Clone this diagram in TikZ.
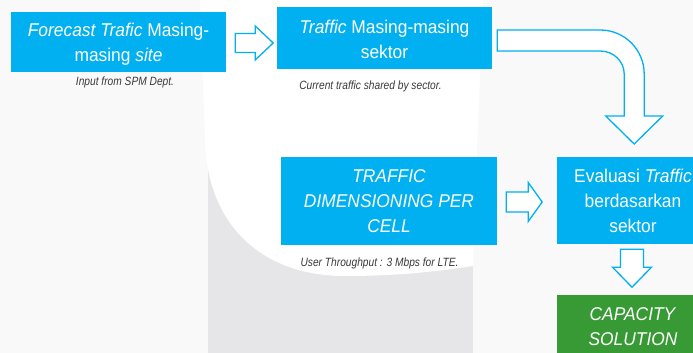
\documentclass[tikz,border=0pt]{standalone}
\usepackage{fontspec}
\setmainfont{Liberation Sans}
\newfontfamily\capfont{Liberation Sans}[FakeStretch=0.85]
\newfontfamily\boxfont{Liberation Sans}[FakeStretch=0.94]
\usetikzlibrary{calc}
\definecolor{boxblue}{HTML}{00B0F0}
\definecolor{boxgreen}{HTML}{389A35}
\definecolor{bgpale}{HTML}{F9F9F9}
\definecolor{bggray}{HTML}{E6E6E8}
\definecolor{captext}{HTML}{3A3A3A}
\tikzset{
  stepbox/.style={rectangle, fill=boxblue, text=white, inner sep=0pt, align=center,
    font=\boxfont\fontsize{18.5}{25}\selectfont},
  greenbox/.style={stepbox, fill=boxgreen},
  caption/.style={inner sep=0pt, text=captext, font=\capfont\itshape\fontsize{12}{14}\selectfont},
  blockarrow/.style={draw=boxblue, fill=white, line width=1.3pt, line join=miter}
}
\begin{document}
\begin{tikzpicture}[x=1pt, y=-1pt]
\useasboundingbox (0,0) rectangle (693,353);
% background
\fill[bgpale] (0,0) rectangle (693,353);
\fill[bggray] (208,140) rectangle (473,353);
\fill[white] (200,0) -- (205,140) .. controls (207,225) and (262,276) .. (345,276)
  .. controls (400,276) and (440,271) .. (473,266) -- (477,150) -- (483,0) -- cycle;

% boxes
\node[stepbox, minimum width=215pt, minimum height=60pt] (f1) at (118.5,42)
  {\rule{0pt}{18pt}\textit{Forecast Trafic} Masing-\\masing \textit{site}};
\node[stepbox, minimum width=215pt, minimum height=62pt] (f2) at (384.5,38)
  {\rule{0pt}{17pt}\textit{Traffic} Masing-masing\\sektor};
\node[stepbox, minimum width=216pt, minimum height=88pt] (f3) at (389,201)
  {\textit{TRAFFIC}\\\textit{DIMENSIONING PER}\\\textit{CELL}};
\node[stepbox, minimum width=152pt, minimum height=87pt] (f4) at (633,200.5)
  {Evaluasi \textit{Traffic}\\berdasarkan\\sektor};
\node[greenbox, minimum width=152pt, minimum height=63pt] (f5) at (633,326.5)
  {\textit{CAPACITY}\\\textit{SOLUTION}};

% captions
\node[caption] (c1) at ($(f1.south)+(6.5,10)$) {Input from SPM Dept.};
\node[caption] (c2) at ($(f2.south)+(-14,17)$) {Current traffic shared by sector.};
\node[caption] (c3) at ($(f3.south)+(-9.5,18)$) {User Throughput : 3 Mbps for LTE.};

% block arrows
\coordinate (a1) at ($(f1.east)+(9,1)$);
\draw[blockarrow] (a1) ++(0,-9.5) -- ++(20,0) -- ++(0,-7.5) -- ++(18,17) -- ++(-18,17)
  -- ++(0,-7.5) -- ++(-20,0) -- cycle;

\coordinate (a2) at ($(f2.east)+(5,-8)$);
\draw[blockarrow] (a2) -- ++(103,0) .. controls +(24.3,0) and +(0,-24.3) .. ++(44,44)
  -- ++(0,42) -- ++(18.5,0) -- ++(-28.5,28) -- ++(-28.5,-28) -- ++(18.5,0)
  -- ++(0,-42) .. controls +(0,-13) and +(13,0) .. ++(-24,-23) -- ++(-103,0) -- cycle;

\coordinate (a3) at ($(f3.east)+(9,1)$);
\draw[blockarrow] (a3) ++(0,-10) -- ++(22,0) -- ++(0,-9.5) -- ++(14,19.5) -- ++(-14,19.5)
  -- ++(0,-9.5) -- ++(-22,0) -- cycle;

\coordinate (a4) at ($(f4.south)+(-1,5)$);
\draw[blockarrow] (a4) ++(-11.5,0) -- ++(0,18) -- ++(-8,0) -- ++(19.5,20) -- ++(19.5,-20)
  -- ++(-8,0) -- ++(0,-18) -- cycle;
\end{tikzpicture}
\end{document}
